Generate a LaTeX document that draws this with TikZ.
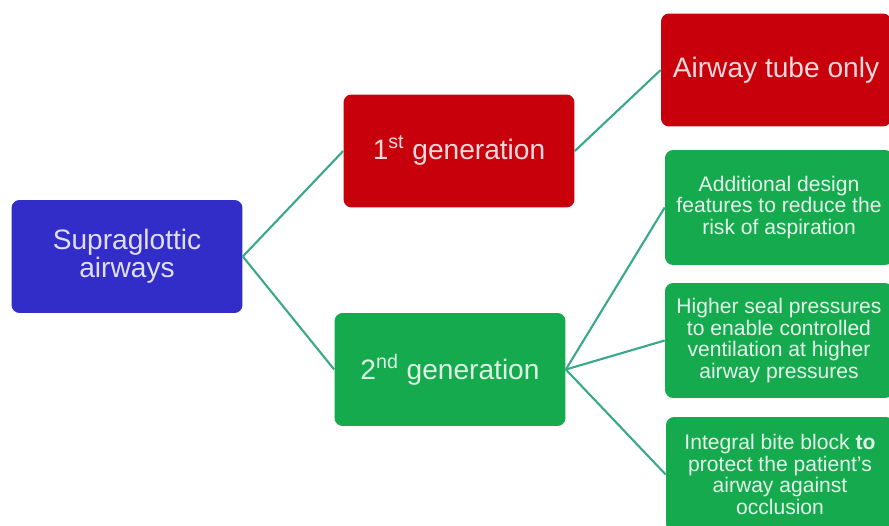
\documentclass[tikz,border=0pt]{standalone}
\usepackage{fontspec}
\setmainfont{Liberation Sans}
\usetikzlibrary{positioning}

\definecolor{sgablue}{RGB}{50,44,200}
\definecolor{genred}{RGB}{200,0,12}
\definecolor{gengreen}{RGB}{22,170,78}
\definecolor{linkteal}{RGB}{58,168,138}

\begin{document}
\begin{tikzpicture}[
    x=0.02cm, y=-0.02cm,
    box/.style={
        rectangle,
        rounded corners=0.16cm,
        inner sep=2pt,
        align=center
    },
    big/.style={
        box,
        minimum width=4.62cm,
        minimum height=2.26cm,
        font=\fontsize{16}{14.6}\selectfont
    },
    small/.style={
        box,
        minimum width=4.56cm,
        minimum height=2.30cm,
        fill=gengreen,
        text=white!88!gengreen,
        font=\fontsize{12}{12.3}\selectfont
    },
    link/.style={draw=linkteal, line width=1.2pt}
]
\clip (0,0) rectangle (889,526);
\fill[white] (0,0) rectangle (889,526);

% Linke Spalte
\node[big, fill=sgablue, text=white!85!sgablue] (sga) at (127,256.5) {Supraglottic\\airways};

% Generationen
\node[big, fill=genred, text=white!85!genred] (gen1) at (459,151) {1\textsuperscript{st} generation};
\node[big, fill=gengreen, text=white!85!gengreen] (gen2) at (450,369.5) {2\textsuperscript{nd} generation};

% Merkmale
\node[big, fill=genred, text=white!85!genred, minimum width=4.6cm] (tube) at (776,70) {Airway tube only};
\node[small] (design) at (779,207.5) {Additional design\\features to reduce the\\risk of aspiration};
\node[small] (seal) at (779,340.5) {Higher seal pressures\\to enable controlled\\ventilation at higher\\airway pressures};
\node[small] (bite) at (780,474.5) {Integral bite block \textbf{to}\\protect the patient's\\airway against\\occlusion};

% Verbindungen
\draw[link] (sga.east) -- (gen1.west);
\draw[link] (sga.east) -- (gen2.west);
\draw[link] (gen1.east) -- (tube.west);
\draw[link] (gen2.east) -- (design.west);
\draw[link] (gen2.east) -- (seal.west);
\draw[link] (gen2.east) -- (bite.west);

\end{tikzpicture}
\end{document}
